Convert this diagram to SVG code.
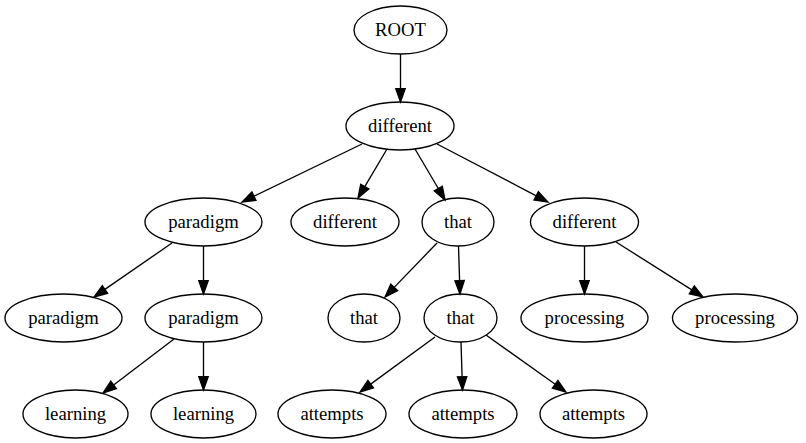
<svg xmlns="http://www.w3.org/2000/svg" width="806" height="443" viewBox="0 0 806 443">
<style>
.n ellipse{fill:none;stroke:#000;stroke-width:1.33}
.n text{font-family:"Liberation Serif","Times New Roman",serif;font-size:18.67px;text-anchor:middle;fill:#000}
.e line{stroke:#000;stroke-width:1.33}
.e polygon{fill:#000;stroke:#000;stroke-width:1.33}
</style>
<rect width="806" height="443" fill="#fff"/>
<g id="edges" class="e">
<line x1="400.5" y1="54" x2="400.5" y2="88.7"/><polygon points="395.8,88.7 400.5,102 405.2,88.7"/>
<line x1="362" y1="144" x2="254" y2="196.2"/><polygon points="256,200.4 242,202 251.9,192"/>
<line x1="387" y1="149" x2="364.8" y2="186.6"/><polygon points="368.8,188.9 358,198 360.7,184.2"/>
<line x1="415" y1="149" x2="438.3" y2="188.5"/><polygon points="442.3,186.2 445,200 434.2,190.9"/>
<line x1="437" y1="144" x2="536.2" y2="195.8"/><polygon points="538.4,191.7 548,202 534,200"/>
<line x1="172" y1="243" x2="104.9" y2="289.4"/><polygon points="107.6,293.3 94,297 102.3,285.6"/>
<line x1="203.5" y1="246" x2="203.5" y2="280.7"/><polygon points="198.8,280.7 203.5,294 208.2,280.7"/>
<line x1="174" y1="339" x2="113.6" y2="385"/><polygon points="116.4,388.7 103,393 110.8,381.2"/>
<line x1="203.5" y1="342" x2="203.5" y2="376.7"/><polygon points="198.8,376.7 203.5,390 208.2,376.7"/>
<line x1="437" y1="243" x2="394.2" y2="287.4"/><polygon points="397.6,290.7 385,297 390.8,284.2"/>
<line x1="458.5" y1="246" x2="459.6" y2="280.7"/><polygon points="454.9,280.8 460,294 464.3,280.5"/>
<line x1="435" y1="337" x2="370.7" y2="384.1"/><polygon points="373.5,387.9 360,392 367.9,380.3"/>
<line x1="461" y1="342" x2="462.1" y2="376.7"/><polygon points="457.4,376.8 462.5,390 466.8,376.6"/>
<line x1="486" y1="335" x2="555.2" y2="384.3"/><polygon points="557.9,380.5 566,392 552.4,388.1"/>
<line x1="584.5" y1="246" x2="584.5" y2="280.7"/><polygon points="579.8,280.7 584.5,294 589.2,280.7"/>
<line x1="616" y1="242" x2="691.8" y2="289.9"/><polygon points="694.3,285.9 703,297 689.3,293.9"/>
</g>
<g id="n1" class="n"><ellipse cx="400.5" cy="30" rx="46.5" ry="24"/><text x="400.5" y="36">ROOT</text></g>
<g id="n2" class="n"><ellipse cx="400" cy="126" rx="54" ry="24"/><text x="400" y="132">different</text></g>
<g id="n3" class="n"><ellipse cx="203.5" cy="222" rx="58.5" ry="24"/><text x="203.5" y="228">paradigm</text></g>
<g id="n4" class="n"><ellipse cx="345" cy="222" rx="54" ry="24"/><text x="345" y="228">different</text></g>
<g id="n5" class="n"><ellipse cx="458" cy="222" rx="36" ry="24"/><text x="458" y="228">that</text></g>
<g id="n6" class="n"><ellipse cx="584.5" cy="222" rx="54" ry="24"/><text x="584.5" y="228">different</text></g>
<g id="n7" class="n"><ellipse cx="63.5" cy="318" rx="58.5" ry="24"/><text x="63.5" y="324">paradigm</text></g>
<g id="n8" class="n"><ellipse cx="203.5" cy="318" rx="58.5" ry="24"/><text x="203.5" y="324">paradigm</text></g>
<g id="n9" class="n"><ellipse cx="364" cy="318" rx="36" ry="24"/><text x="364" y="324">that</text></g>
<g id="n10" class="n"><ellipse cx="460.5" cy="318" rx="36.5" ry="24"/><text x="460.5" y="324">that</text></g>
<g id="n11" class="n"><ellipse cx="584.5" cy="318" rx="63.5" ry="24"/><text x="584.5" y="324">processing</text></g>
<g id="n12" class="n"><ellipse cx="735" cy="318" rx="62.5" ry="24"/><text x="735" y="324">processing</text></g>
<g id="n13" class="n"><ellipse cx="75.5" cy="414" rx="52.5" ry="24"/><text x="75.5" y="420">learning</text></g>
<g id="n14" class="n"><ellipse cx="203.5" cy="414" rx="52.5" ry="24"/><text x="203.5" y="420">learning</text></g>
<g id="n15" class="n"><ellipse cx="332" cy="414" rx="54" ry="24"/><text x="332" y="420">attempts</text></g>
<g id="n16" class="n"><ellipse cx="463" cy="414" rx="54" ry="24"/><text x="463" y="420">attempts</text></g>
<g id="n17" class="n"><ellipse cx="593.5" cy="414" rx="53.5" ry="24"/><text x="593.5" y="420">attempts</text></g>
</svg>
